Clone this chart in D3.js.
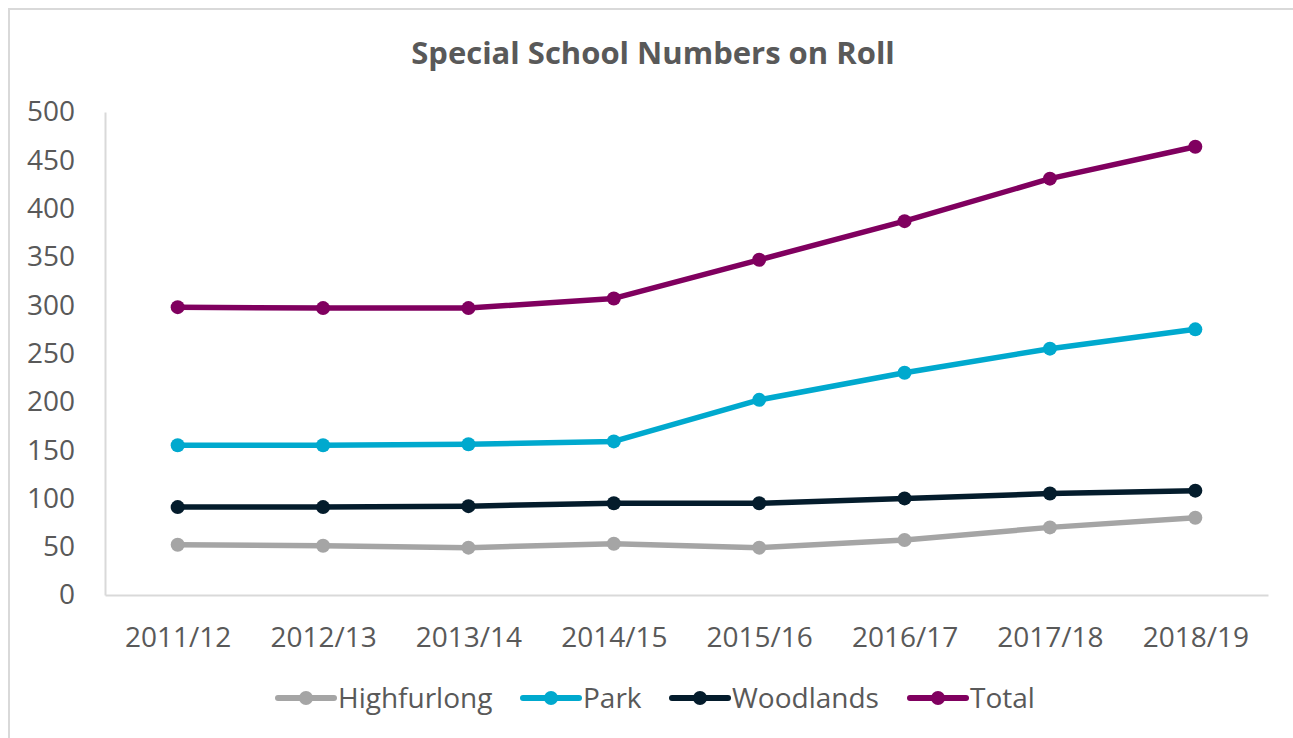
<!DOCTYPE html>
<html>
<head>
<meta charset="utf-8">
<script src="https://cdn.jsdelivr.net/npm/d3@7"></script>
<style>
  body { margin: 0; background: #fff; }
  svg { display: block; font-family: "Open Sans", sans-serif; }
  .tick text { fill: #595959; font-family: "Open Sans", sans-serif; }
</style>
</head>
<body>
<svg width="1293" height="738"></svg>
<script>
// School years on the x axis
const years = ["2011/12", "2012/13", "2013/14", "2014/15", "2015/16", "2016/17", "2017/18", "2018/19"];

// Pupils on roll per school
const highfurlong = [52, 51, 49, 53, 49, 57, 70, 80];
const park = [155, 155, 156, 159, 202, 230, 255, 275];
const woodlands = [91, 91, 92, 95, 95, 100, 105, 108];
const total = [298, 297, 297, 307, 347, 387, 431, 464];

const yTicks = [0, 50, 100, 150, 200, 250, 300, 350, 400, 450, 500];

const series = [
  { name: "Highfurlong", values: highfurlong, color: "#a5a5a5" },
  { name: "Park", values: park, color: "#00a9ce" },
  { name: "Woodlands", values: woodlands, color: "#041c2c" },
  { name: "Total", values: total, color: "#80005f" }
];

const svg = d3.select("svg");

// Outer chart frame (cropped on right/bottom like the source)
svg.append("path")
  .attr("d", "M9,1300 L9,9 L1300,9")
  .attr("fill", "none")
  .attr("stroke", "#d9d9d9")
  .attr("stroke-width", 2);

// Title
svg.append("text")
  .attr("x", 653)
  .attr("y", 64)
  .attr("text-anchor", "middle")
  .style("font-size", "31px")
  .style("font-weight", "bold")
  .style("fill", "#595959")
  .text("Special School Numbers on Roll");

const x = d3.scalePoint().domain(years).range([105, 1268]).padding(0.5);
const y = d3.scaleLinear().domain([0, 500]).range([595, 112]);

// Y axis
const yAxis = svg.append("g")
  .attr("transform", "translate(105,0)")
  .call(d3.axisLeft(y).tickValues(yTicks).tickSize(0).tickPadding(30));
yAxis.select(".domain").attr("stroke", "#d9d9d9").attr("stroke-width", 2);
yAxis.selectAll("text").style("font-size", "28px");

// X axis
const xAxis = svg.append("g")
  .attr("transform", "translate(0,595)")
  .call(d3.axisBottom(x).tickSize(0).tickPadding(32));
xAxis.select(".domain").attr("stroke", "#d9d9d9").attr("stroke-width", 2);
xAxis.selectAll("text").style("font-size", "28px");

// Lines + markers
const line = d3.line()
  .x((_d, i) => x(years[i]))
  .y((d) => y(d));

const groups = svg.selectAll("g.series")
  .data(series)
  .enter()
  .append("g")
  .attr("class", "series");

groups.append("path")
  .attr("d", (d) => line(d.values))
  .attr("fill", "none")
  .attr("stroke", (d) => d.color)
  .attr("stroke-width", 5.5)
  .attr("stroke-linejoin", "round");

groups.selectAll("circle")
  .data((d) => d.values.map((v, i) => ({ v, i, color: d.color })))
  .enter()
  .append("circle")
  .attr("cx", (d) => x(years[d.i]))
  .attr("cy", (d) => y(d.v))
  .attr("r", 7)
  .attr("fill", (d) => d.color);

// Legend
const legendX = [278, 523, 672, 910];
const legend = svg.selectAll("g.legend")
  .data(series)
  .enter()
  .append("g")
  .attr("class", "legend")
  .attr("transform", (_d, i) => `translate(${legendX[i]}, 698)`);

legend.append("line")
  .attr("x1", 0)
  .attr("x2", 56)
  .attr("stroke", (d) => d.color)
  .attr("stroke-width", 6)
  .attr("stroke-linecap", "round");

legend.append("circle")
  .attr("cx", 28)
  .attr("r", 7)
  .attr("fill", (d) => d.color);

legend.append("text")
  .attr("x", 60)
  .attr("dy", "0.35em")
  .style("font-size", "28px")
  .style("fill", "#595959")
  .text((d) => d.name);
</script>
</body>
</html>
